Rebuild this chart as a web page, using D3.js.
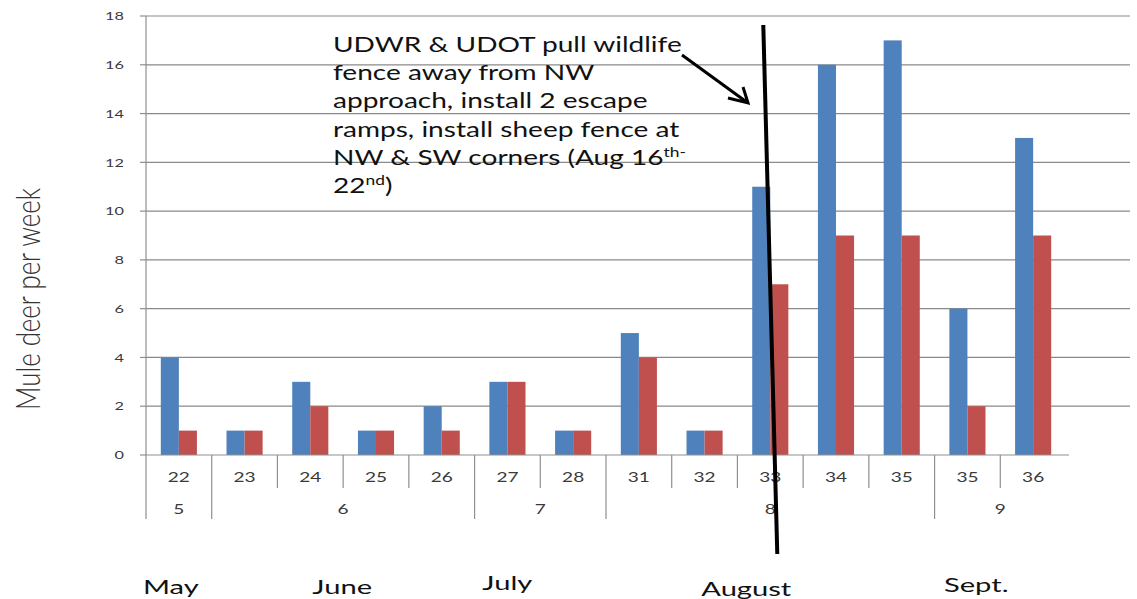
<!DOCTYPE html>
<html><head><meta charset="utf-8">
<script src="https://cdn.jsdelivr.net/npm/d3@7"></script>
<style>body{margin:0;background:#fff}svg{display:block}</style>
</head><body><svg id="c" width="1137" height="599"></svg>
<script>
// ---- data ----
const categories = ["22","23","24","25","26","27","28","31","32","33","34","35","35","36"];
const seriesBlue = [4,1,3,1,2,3,1,5,1,11,16,17,6,13];
const seriesRed  = [1,1,2,1,1,3,1,4,1,7,9,9,2,9];
const groupLabels = ["5","6","7","8","9"];
const groupSizes  = [1,4,2,5,2];
const monthLabels = ["May","June","July","August","Sept."];
const yTicks = [0,2,4,6,8,10,12,14,16,18];
const yTitle = "Mule deer per week";
const noteLines = [
  ["UDWR & UDOT pull wildlife"],
  ["fence away from NW"],
  ["approach, install 2 escape"],
  ["ramps, install sheep fence at"],
  ["NW & SW corners (Aug 16", "th-"],
  ["22", "nd", ")"]
];

// ---- layout ----
const svg = d3.select("#c");
const FONT = "Lato, 'Open Sans', sans-serif";
const SX = 1.36;
const gridC = "#8a8a8a", axisC = "#8f8f8f";
const x = d3.scaleBand().domain(d3.range(categories.length)).range([146, 1066]);
const xs = d3.scaleBand().domain(["blue","red"]).range([0, x.bandwidth()]).paddingOuter(0.82);
const y = d3.scaleLinear().domain([0, 18]).range([455, 16]);
const colors = {blue:"#4f81bd", red:"#c0504d"};

// gridlines
svg.append("g").selectAll("line").data(yTicks.filter(v=>v>0)).join("line")
  .attr("x1", 146).attr("x2", 1130).attr("y1", d=>y(d)).attr("y2", d=>y(d))
  .attr("stroke", gridC).attr("stroke-width", 1.2);
// y tick marks
svg.append("g").selectAll("line").data(yTicks).join("line")
  .attr("x1", 140).attr("x2", 146).attr("y1", d=>y(d)).attr("y2", d=>y(d))
  .attr("stroke", axisC).attr("stroke-width", 1.2);
// y axis line
svg.append("line").attr("x1",146).attr("x2",146).attr("y1",y(18)).attr("y2",y(0))
  .attr("stroke", axisC).attr("stroke-width", 1.2);
// y tick labels
svg.append("g").selectAll("text").data(yTicks).join("text")
  .attr("transform", d=>`translate(124,${y(d)}) scale(${SX},1)`)
  .attr("dy","0.35em").attr("text-anchor","end")
  .attr("font-family", FONT).attr("font-size", 12).attr("fill","#3a3a3a")
  .text(d=>d);

// bars
const rows = categories.map((c,i)=>({i, blue: seriesBlue[i], red: seriesRed[i]}));
const bg = svg.append("g").selectAll("g").data(rows).join("g")
  .attr("transform", d=>`translate(${x(d.i)},0)`);
bg.selectAll("rect").data(d=>["blue","red"].map(k=>({k, v:d[k]}))).join("rect")
  .attr("x", d=>xs(d.k)).attr("width", xs.bandwidth())
  .attr("y", d=>y(d.v)).attr("height", d=>y(0)-y(d.v))
  .attr("fill", d=>colors[d.k]);

// x baseline
svg.append("line").attr("x1",146).attr("x2",x.range()[1]+3).attr("y1",y(0)).attr("y2",y(0))
  .attr("stroke", axisC).attr("stroke-width", 1.2);

// category boundaries
const groupStarts = [];
let acc = 0; groupSizes.forEach(s=>{groupStarts.push(acc); acc+=s;});
const bounds = d3.range(categories.length);
svg.append("g").selectAll("line").data(bounds).join("line")
  .attr("x1", d=>x(d)).attr("x2", d=>x(d))
  .attr("y1", y(0)).attr("y2", d=> groupStarts.includes(d) ? 519 : 488)
  .attr("stroke", axisC).attr("stroke-width", 1.2);

// category labels
svg.append("g").selectAll("text").data(categories).join("text")
  .attr("transform", (d,i)=>`translate(${x(i)+x.bandwidth()/2},482) scale(${SX},1)`)
  .attr("text-anchor","middle").attr("font-family", FONT).attr("font-size", 14).attr("fill","#3a3a3a")
  .text(d=>d);
// group labels
const groupCenters = groupStarts.map((s,gi)=> (x(s) + x(s+groupSizes[gi]-1) + x.bandwidth())/2);
svg.append("g").selectAll("text").data(groupLabels).join("text")
  .attr("transform", (d,i)=>`translate(${groupCenters[i]},514) scale(${SX},1)`)
  .attr("text-anchor","middle").attr("font-family", FONT).attr("font-size", 14).attr("fill","#3a3a3a")
  .text(d=>d);

// month labels (hand-placed text boxes, offset from group centre)
const monthOffsets = [-8, -1, -33, -24, -24];
const monthBase = [594, 594, 590, 596, 592];
const mg = svg.append("g").selectAll("text").data(monthLabels).join("text")
  .attr("text-anchor","middle").attr("font-family", FONT).attr("font-size", 19).attr("fill","#111")
  .text(d=>d);
const augW = mg.filter(d=>d==="August").node().getComputedTextLength();
const msx = 90 / augW;
mg.attr("transform", (d,i)=>`translate(${groupCenters[i]+monthOffsets[i]},${monthBase[i]}) scale(${msx},1)`);

// y title
svg.append("text")
  .attr("transform", `translate(40,299) scale(${SX},1) rotate(-90)`)
  .attr("text-anchor","middle").attr("font-family", FONT).attr("font-weight", 300)
  .attr("font-size", 25).attr("fill","#333")
  .attr("textLength", 222).attr("lengthAdjust","spacingAndGlyphs")
  .text(yTitle);

// annotation text
const ng = svg.append("g");
noteLines.forEach((parts, li)=>{
  const t = ng.append("text").attr("x",0).attr("y", li*28.2)
    .attr("font-family", FONT).attr("font-size", 21).attr("fill","#111");
  parts.forEach((p, pi)=>{
    const sup = (li===4 && pi===1) || (li===5 && pi===1);
    const back = (li===5 && pi===2);
    t.append("tspan").text(p)
      .attr("font-size", sup ? 13 : 21)
      .attr("dy", sup ? -8 : (back ? 8 : 0));
  });
});
const l1 = ng.select("text").node().getComputedTextLength();
ng.attr("transform", `translate(333,52) scale(${349/l1},1)`);

// vertical event line (at week 33)
const cx33 = x(9) + x.bandwidth()/2;
svg.append("line").attr("x1", cx33-7).attr("y1", 25).attr("x2", cx33+7).attr("y2", 554)
  .attr("stroke","#000").attr("stroke-width", 4);
// arrow
const ax0 = 682, ay0 = 55, ax1 = 748, ay1 = 103;
svg.append("path").attr("d", `M${ax0},${ay0}L${ax1},${ay1}M${ax1-20},${ay1-5}L${ax1},${ay1}L${ax1-5},${ay1-16}`)
  .attr("fill","none").attr("stroke","#000").attr("stroke-width",3).attr("stroke-linejoin","miter");
</script></body></html>
